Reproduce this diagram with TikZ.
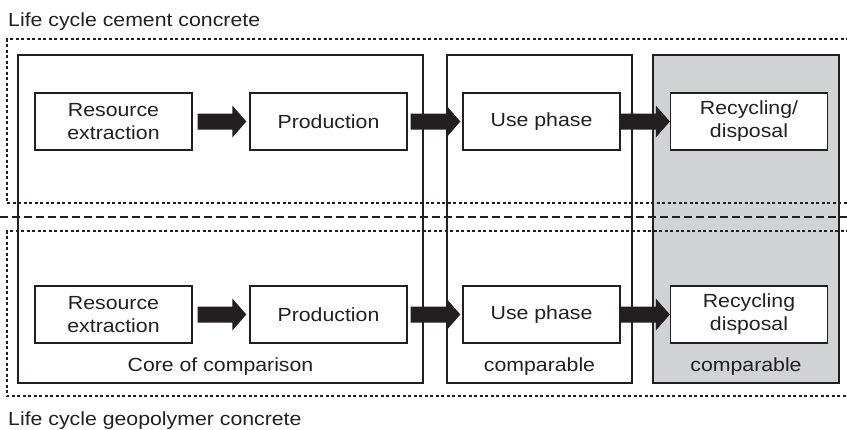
\documentclass[tikz,border=0pt]{standalone}
\usepackage{fontspec}
\setmainfont{Liberation Sans}[FakeStretch=1.12]
\usetikzlibrary{calc}
\definecolor{ink}{RGB}{35,31,32}
\definecolor{shade}{RGB}{209,210,212}
\tikzset{
  frame/.style={draw=ink, line width=1.3pt},
  stage/.style={draw=ink, line width=1.3pt, fill=white, minimum width=157pt, minimum height=57pt,
    inner sep=0pt, align=center, font=\fontsize{19}{23}\selectfont, text=ink},
  lbl/.style={font=\fontsize{19}{23}\selectfont, text=ink, inner sep=0pt},
  dotline/.style={draw=ink, line width=1.2pt, dash pattern=on 3pt off 2.5pt},
  dashline/.style={draw=ink, line width=1.2pt, dash pattern=on 8pt off 4pt},
}
\newcommand\fatarrow[4]{% from node, to node, start gap, end gap
  \fill[ink] ($(#1.east)+(#3,-8)$) -- ($(#2.west)+(-14-#4,-8)$) -- ($(#2.west)+(-14-#4,-16)$)
    -- ($(#2.west)+(-#4,0)$) -- ($(#2.west)+(-14-#4,16)$) -- ($(#2.west)+(-14-#4,8)$)
    -- ($(#1.east)+(#3,8)$) -- cycle;}
\begin{document}
\begin{tikzpicture}[x=1pt,y=-1pt]
\useasboundingbox (0,0) rectangle (847,429);
% containers
\draw[frame] (18,55) rectangle (423,383);
\draw[frame] (447,55) rectangle (632,383);
\draw[frame, fill=shade] (653,55) rectangle (839,383);
% life-cycle frames
\draw[dotline] (849,39) -- (7,39) -- (7,203) -- (849,203);
\draw[dotline] (849,231) -- (7,231) -- (7,396) -- (849,396);
\draw[dashline] (0,217) -- (847,217);
% titles
\node[lbl, anchor=base west] (t1) at (8,26) {Life cycle cement concrete};
\node[lbl, anchor=base west] (t2) at (8,425) {Life cycle geopolymer concrete};
% top row
\node[stage] (r1) at (113.5,121.5) {Resource\\extraction};
\node[stage] (p1) at (328.5,121.5) {Production};
\node[stage] (u1) at (541.5,121.5) {Use phase};
\node[stage] (c1) at (749,121.5) {Recycling/\\disposal};
% bottom row
\node[stage] (r2) at (113.5,314.5) {Resource\\extraction};
\node[stage] (p2) at (328.5,314.5) {Production};
\node[stage] (u2) at (541.5,314.5) {Use phase};
\node[stage] (c2) at (749,314.5) {Recycling\\disposal};
% arrows
\fatarrow{r1}{p1}{5}{3}
\fatarrow{p1}{u1}{3}{2}
\fatarrow{u1}{c1}{0}{0}
\fatarrow{r2}{p2}{5}{3}
\fatarrow{p2}{u2}{3}{2}
\fatarrow{u2}{c2}{0}{0}
% labels
\node[lbl, anchor=base] (l1) at (220.5,371) {Core of comparison};
\node[lbl, anchor=base] (l2) at (539.5,371) {comparable};
\node[lbl, anchor=base] (l3) at (746,371) {comparable};
\end{tikzpicture}
\end{document}
